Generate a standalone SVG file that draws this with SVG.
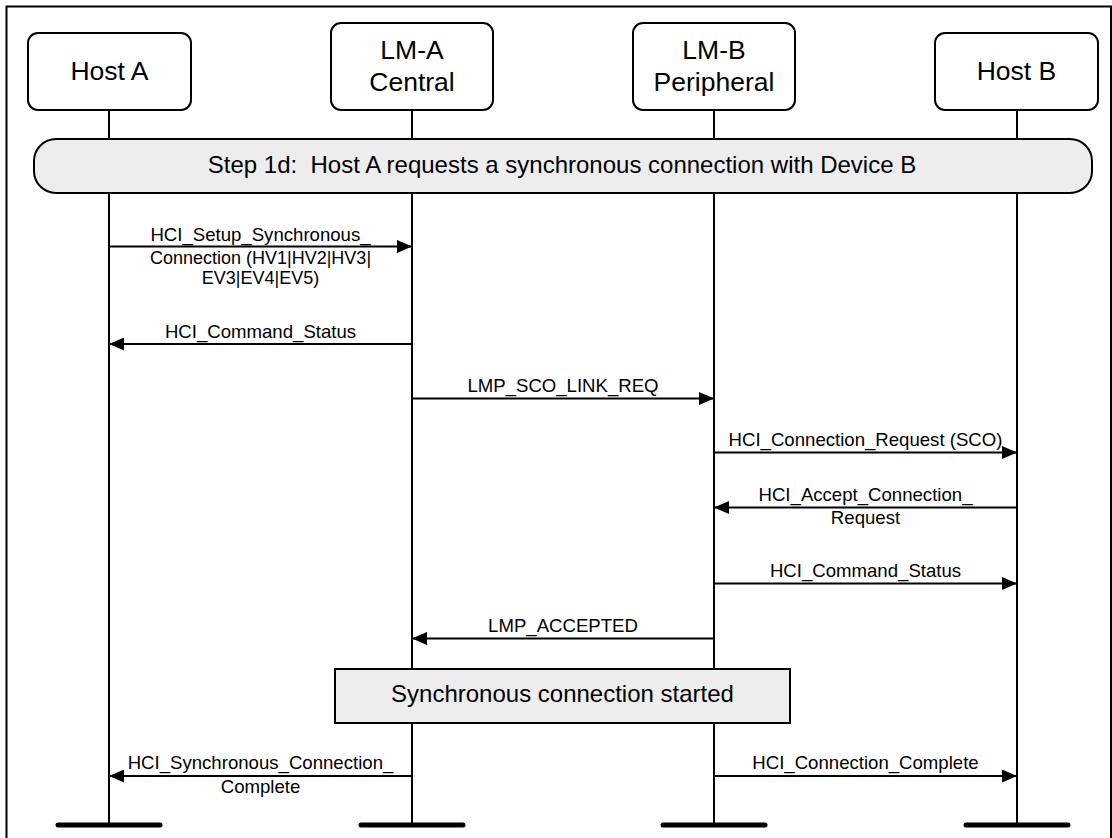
<svg xmlns="http://www.w3.org/2000/svg" width="1112" height="838" viewBox="0 0 1112 838">
<style>
  text { font-family: "Liberation Sans", Arial, sans-serif; fill: #000; }
  .node { fill: #fff; stroke: #000; stroke-width: 2; }
  .nt { font-size: 26.5px; text-anchor: middle; }
  .life { stroke: #000; stroke-width: 2; fill: none; }
  .bar { stroke: #000; stroke-width: 5; stroke-linecap: round; }
  .msg { stroke: #000; stroke-width: 2; fill: none; }
  .ml { font-size: 18.6px; text-anchor: middle; }
  .ml2 { font-size: 18px; text-anchor: middle; }
  .band { fill: #ededed; stroke: #000; stroke-width: 2; }
  .bt { font-size: 24px; text-anchor: middle; white-space: pre; }
</style>
<defs>
  <marker id="ah" viewBox="0 0 15 13" refX="15" refY="6.5" markerWidth="15" markerHeight="13" markerUnits="userSpaceOnUse" orient="auto">
    <path d="M0 0 L15 6.5 L0 13 Z" fill="#000"/>
  </marker>
</defs>
<rect width="1112" height="838" fill="#fff"/>
<path d="M6.5 838 V6.5 H1111 V838" fill="none" stroke="#000" stroke-width="2"/>

<g id="lifelines">
  <line class="life" x1="109" y1="110" x2="109" y2="825"/>
  <line class="life" x1="412" y1="110" x2="412" y2="825"/>
  <line class="life" x1="714" y1="110" x2="714" y2="825"/>
  <line class="life" x1="1017" y1="110" x2="1017" y2="825"/>
  <line class="bar" x1="58" y1="825" x2="160" y2="825"/>
  <line class="bar" x1="361" y1="825" x2="463" y2="825"/>
  <line class="bar" x1="663" y1="825" x2="765" y2="825"/>
  <line class="bar" x1="966" y1="825" x2="1068" y2="825"/>
</g>

<g id="host-a">
  <rect class="node" x="28" y="33" width="163" height="77" rx="10"/>
  <text class="nt" x="109.5" y="80">Host A</text>
</g>
<g id="lm-a">
  <rect class="node" x="331" y="23" width="162" height="87" rx="10"/>
  <text class="nt" x="412" y="59">LM-A</text>
  <text class="nt" x="412" y="91">Central</text>
</g>
<g id="lm-b">
  <rect class="node" x="633" y="23" width="162" height="87" rx="10"/>
  <text class="nt" x="714" y="59">LM-B</text>
  <text class="nt" x="714" y="91">Peripheral</text>
</g>
<g id="host-b">
  <rect class="node" x="935" y="33" width="163" height="77" rx="10"/>
  <text class="nt" x="1016.5" y="80">Host B</text>
</g>

<g id="step-1d">
  <rect class="band" x="34" y="139" width="1058" height="54" rx="22"/>
  <text class="bt" x="562" y="173">Step 1d:  Host A requests a synchronous connection with Device B</text>
</g>

<g id="sync-started">
  <rect class="band" x="335" y="669" width="455" height="54"/>
  <text class="bt" x="562.5" y="702">Synchronous connection started</text>
</g>

<g id="connectors">
  <line class="msg" x1="109" y1="246.5" x2="412" y2="246.5" marker-end="url(#ah)"/>
  <text class="ml" x="260.5" y="241">HCI_Setup_Synchronous_</text>
  <text class="ml2" x="260.5" y="264">Connection (HV1|HV2|HV3|</text>
  <text class="ml2" x="260.5" y="284">EV3|EV4|EV5)</text>

  <line class="msg" x1="412" y1="344" x2="109" y2="344" marker-end="url(#ah)"/>
  <text class="ml" x="260.5" y="337.5">HCI_Command_Status</text>

  <line class="msg" x1="412" y1="398.5" x2="714" y2="398.5" marker-end="url(#ah)"/>
  <text class="ml" x="563" y="392">LMP_SCO_LINK_REQ</text>

  <line class="msg" x1="714" y1="452.5" x2="1017" y2="452.5" marker-end="url(#ah)"/>
  <text class="ml" x="865.5" y="446">HCI_Connection_Request (SCO)</text>

  <line class="msg" x1="1017" y1="507.5" x2="714" y2="507.5" marker-end="url(#ah)"/>
  <text class="ml" x="865.5" y="501">HCI_Accept_Connection_</text>
  <text class="ml" x="865.5" y="524">Request</text>

  <line class="msg" x1="714" y1="583.5" x2="1017" y2="583.5" marker-end="url(#ah)"/>
  <text class="ml" x="865.5" y="577">HCI_Command_Status</text>

  <line class="msg" x1="714" y1="638.5" x2="412" y2="638.5" marker-end="url(#ah)"/>
  <text class="ml" x="563" y="632">LMP_ACCEPTED</text>

  <line class="msg" x1="412" y1="776" x2="109" y2="776" marker-end="url(#ah)"/>
  <text class="ml" x="260.5" y="769">HCI_Synchronous_Connection_</text>
  <text class="ml" x="260.5" y="792.5">Complete</text>

  <line class="msg" x1="714" y1="776" x2="1017" y2="776" marker-end="url(#ah)"/>
  <text class="ml" x="865.5" y="769">HCI_Connection_Complete</text>
</g>
</svg>
